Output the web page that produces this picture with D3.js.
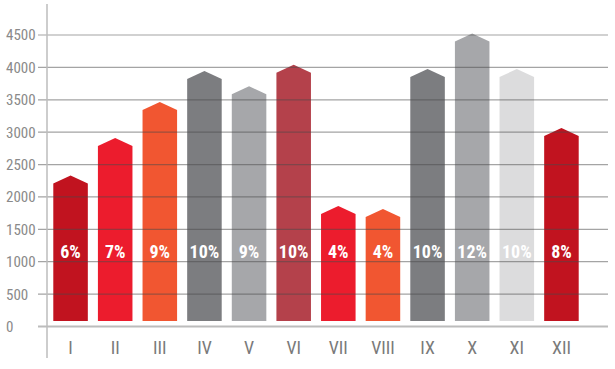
<!DOCTYPE html>
<html>
<head>
<meta charset="utf-8">
<script src="https://cdn.jsdelivr.net/npm/d3@7"></script>
<style>
  body { margin: 0; background: #fff; }
  text { font-family: "Liberation Sans Narrow", "Arial Narrow", "Roboto Condensed", sans-serif; }
</style>
</head>
<body>
<div id="chart"></div>
<script>
// data
const months = ['I', 'II', 'III', 'IV', 'V', 'VI', 'VII', 'VIII', 'IX', 'X', 'XI', 'XII'];
const values = [2330, 2910, 3465, 3945, 3710, 4040, 1860, 1815, 3975, 4525, 3975, 3065];
const shares = ['6%', '7%', '9%', '10%', '9%', '10%', '4%', '4%', '10%', '12%', '10%', '8%'];
const yTicks = [0, 500, 1000, 1500, 2000, 2500, 3000, 3500, 4000, 4500];
const colors = ['#c1131f', '#ec1c2d', '#f15631', '#7c7d80', '#a6a7aa', '#b4414b',
                '#ec1c2d', '#f15631', '#7c7d80', '#a6a7aa', '#dcdcdd', '#c1131f'];

const w = 615, h = 369;
const roof = 8;      // height of the arrow tip
const lift = 5.5;    // bars stop a bit above the zero line

const svg = d3.select('#chart')
              .append('svg')
              .attr('width', w)
              .attr('height', h);

const dataset = months.map((m, i) => ({month: m, value: values[i], share: shares[i], color: colors[i]}));

// #Scales
const xScale = d3.scaleBand()
                 .domain(months)
                 .range([47, 585])
                 .paddingInner(0.226)
                 .paddingOuter(0.141);
const yScale = d3.scaleLinear()
                 .domain([0, 4500])
                 .range([326.5, 35]);

// #Bars (pentagon arrows)
const bw = xScale.bandwidth();
svg.append('g')
   .selectAll('path')
   .data(dataset)
   .enter()
   .append('path')
   .attr('fill', d => d.color)
   .attr('d', d => {
     const x0 = xScale(d.month);
     const top = yScale(d.value);
     const bottom = yScale(0) - lift;
     return 'M' + x0 + ',' + bottom +
            'L' + x0 + ',' + (top + roof) +
            'L' + (x0 + bw / 2) + ',' + top +
            'L' + (x0 + bw) + ',' + (top + roof) +
            'L' + (x0 + bw) + ',' + bottom + 'Z';
   });

// #Gridlines on top of the bars
svg.append('g')
   .selectAll('line')
   .data(yTicks.filter(t => t > 0))
   .enter()
   .append('line')
   .attr('x1', 38)
   .attr('x2', 608)
   .attr('y1', d => yScale(d))
   .attr('y2', d => yScale(d))
   .attr('stroke', '#4a4a4a')
   .attr('stroke-opacity', 0.5)
   .attr('stroke-width', 1.2);

// #Zero line and vertical axis
svg.append('line')
   .attr('x1', 38)
   .attr('x2', 608)
   .attr('y1', yScale(0))
   .attr('y2', yScale(0))
   .attr('stroke', '#bcbcbc')
   .attr('stroke-width', 2);
svg.append('line')
   .attr('x1', 47)
   .attr('x2', 47)
   .attr('y1', 4)
   .attr('y2', 358)
   .attr('stroke', '#bcbcbc')
   .attr('stroke-width', 1.5);

// #Y tick labels (left aligned)
svg.append('g')
   .selectAll('text')
   .data(yTicks)
   .enter()
   .append('text')
   .attr('x', 6)
   .attr('y', d => yScale(d))
   .attr('dy', '0.36em')
   .attr('font-size', 15)
   .attr('fill', '#8a8a8a')
   .text(d => d);

// #X labels
svg.append('g')
   .selectAll('text')
   .data(dataset)
   .enter()
   .append('text')
   .attr('x', d => xScale(d.month) + bw / 2)
   .attr('y', 348)
   .attr('dy', '0.36em')
   .attr('text-anchor', 'middle')
   .attr('font-size', 18)
   .attr('fill', '#7a7a7a')
   .text(d => d.month);

// #Percent labels
svg.append('g')
   .selectAll('text')
   .data(dataset)
   .enter()
   .append('text')
   .attr('x', d => xScale(d.month) + bw / 2)
   .attr('y', yScale(1150))
   .attr('dy', '0.36em')
   .attr('text-anchor', 'middle')
   .attr('font-size', 18)
   .attr('font-weight', 'bold')
   .attr('fill', '#ffffff')
   .text(d => d.share);
</script>
</body>
</html>
